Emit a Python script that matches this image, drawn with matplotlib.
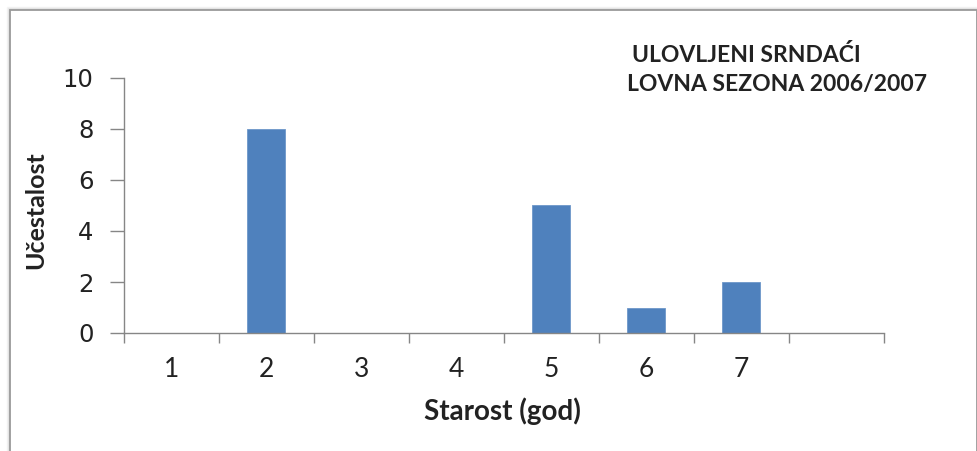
import matplotlib
matplotlib.use("Agg")
import matplotlib.pyplot as plt
from matplotlib.patches import Rectangle

categories = ["1", "2", "3", "4", "5", "6", "7", ""]
values = [0, 8, 0, 0, 5, 1, 2, 0]
yticks = [0, 2, 4, 6, 8, 10]
title_lines = ["ULOVLJENI SRNDAĆI", "LOVNA SEZONA 2006/2007"]
xlabel = "Starost (god)"
ylabel = "Učestalost"

W, H = 978, 451
fig = plt.figure(figsize=(W / 100, H / 100), dpi=100)
fig.patch.set_facecolor("white")

# chart frame with soft shadow
for i, c in enumerate(["#f4f4f4", "#e8e8e8", "#d8d8d8"]):
    off = 3 - i
    fig.add_artist(Rectangle(((10 - off) / W, -0.2), (967 + 2 * off) / W, (441 + off) / H + 0.2,
                             transform=fig.transFigure, fill=False, edgecolor=c, lw=1.0))
fig.add_artist(Rectangle((10 / W, -0.2), 967 / W, 441 / H + 0.2,
                         transform=fig.transFigure, fill=False, edgecolor="#9a9a9a", lw=1.3))

ax = fig.add_axes([124 / W, (H - 333) / H, (884 - 124) / W, (333 - 78) / H])
x = list(range(len(categories)))
ax.bar(x, values, width=0.4, color="#4F81BD", edgecolor="#6d97c9", linewidth=0.6, zorder=2)

ax.set_xlim(-0.5, len(categories) - 0.5)
ax.set_ylim(0, 10)
ax.set_yticks(yticks)
ax.set_yticklabels([str(v) for v in yticks], family="DejaVu Sans", fontsize=17.5, color="#222222")

ax.set_xticks([i - 0.5 for i in range(len(categories) + 1)])
ax.set_xticklabels([])
ax.set_xticks(x, minor=True)
ax.set_xticklabels(categories, minor=True, family="Lato", fontsize=19, color="#222222")
ax.tick_params(axis="x", which="major", length=7, width=1, color="#868686", direction="out")
ax.tick_params(axis="x", which="minor", length=0, pad=17)
ax.tick_params(axis="y", length=10, width=1, color="#868686", direction="out", pad=12)

for s in ["top", "right"]:
    ax.spines[s].set_visible(False)
for s in ["left", "bottom"]:
    ax.spines[s].set_color("#868686")
    ax.spines[s].set_linewidth(1)

fig.text(502 / W, 1 - 411 / H, xlabel, ha="center", va="center", family="Lato",
         fontweight="bold", fontsize=20, color="#222222")
fig.text(36 / W, 1 - 210 / H, ylabel, ha="center", va="center", rotation=90, family="Lato",
         fontweight="bold", fontsize=18, color="#222222")
fig.text(632 / W, 1 - 55 / H, title_lines[0], ha="left", va="center", family="Lato",
         fontweight="bold", fontsize=16.5, color="#222222")
fig.text(627 / W, 1 - 85 / H, title_lines[1], ha="left", va="center", family="Lato",
         fontweight="bold", fontsize=16.5, color="#222222")

fig.savefig("out.png", dpi=100)
